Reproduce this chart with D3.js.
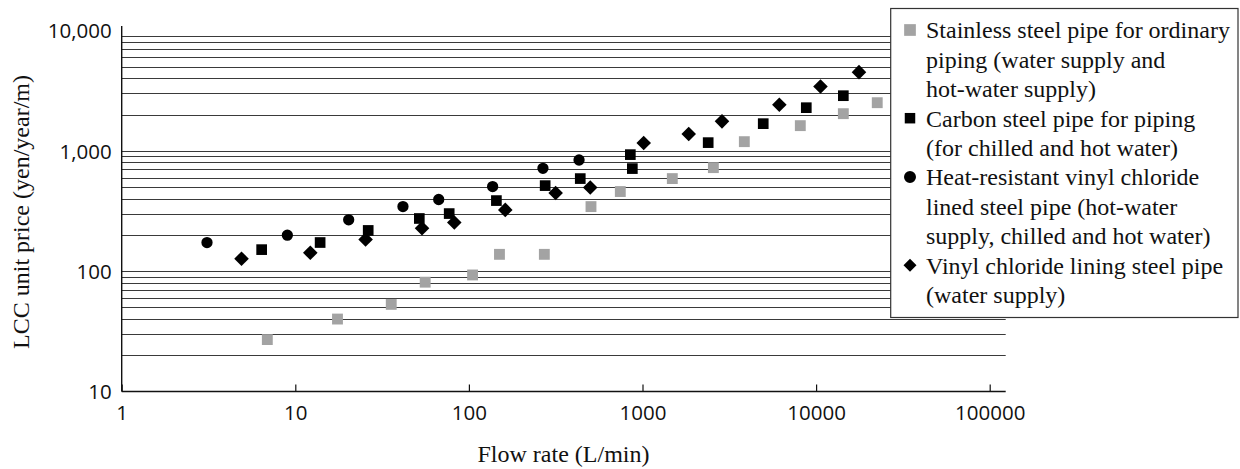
<!DOCTYPE html>
<html>
<head>
<meta charset="utf-8">
<script src="https://cdn.jsdelivr.net/npm/d3@7"></script>
<style>
  html, body { margin: 0; padding: 0; background: #fff; }
  svg { display: block; }
</style>
</head>
<body>
<svg id="chart" width="1240" height="469"></svg>
<script>
// ---------- data ----------
const stainlessFlow  = [6.9, 17.5, 35.7, 56, 105, 150, 272, 505, 745, 1485, 2560, 3860, 8110, 14350, 22500];
const stainlessPrice = [27, 40, 53, 81, 93, 138, 138, 344, 459, 588, 725, 1192, 1619, 2036, 2512];

const carbonFlow  = [6.4, 13.9, 26.3, 51.8, 77, 144, 275, 438, 851, 874, 2390, 4960, 8780, 14350];
const carbonPrice = [151, 173, 218, 274, 301, 386, 514, 588, 930, 712, 1170, 1682, 2283, 2872];

const heatFlow  = [3.1, 9.0, 20.3, 41.7, 67, 137, 267, 431];
const heatPrice = [173, 199, 267, 344, 394, 505, 716, 839];

const vinylFlow  = [4.9, 12.2, 25.4, 53.7, 82.4, 162, 316, 500, 1016, 1846, 2870, 6140, 10600, 17660];
const vinylPrice = [127, 142, 183, 227, 254, 323, 447, 495, 1160, 1378, 1758, 2417, 3429, 4508];

const xTickValues = [1, 10, 100, 1000, 10000, 100000];
const xTickLabels = ["1", "10", "100", "1000", "10000", "100000"];
const yTickValues = [10, 100, 1000, 10000];
const yTickLabels = ["10", "100", "1,000", "10,000"];
const yGridValues = [20, 30, 40, 50, 60, 70, 80, 90,
                     100, 200, 300, 400, 500, 600, 700, 800, 900,
                     1000, 2000, 3000, 4000, 5000, 6000, 7000, 8000, 9000];

const xTitle = "Flow rate (L/min)";
const yTitle = "LCC unit price (yen/year/m)";

const legendLines = [
  ["Stainless steel pipe for ordinary", "piping (water supply and", "hot-water supply)"],
  ["Carbon steel pipe for piping", "(for chilled and hot water)"],
  ["Heat-resistant vinyl chloride", "lined steel pipe (hot-water", "supply, chilled and hot water)"],
  ["Vinyl chloride lining steel pipe", "(water supply)"]
];

// ---------- layout ----------
const plotLeft = 121.7, plotRight = 1005.7, plotBottom = 391.5, axisTop = 26;
const svg = d3.select("#chart");

const x = d3.scaleLog().domain([1, 100000]).range([plotLeft, 989.7]);
const y = d3.scaleLog().domain([10, 10000]).range([plotBottom, 30.5]);

const series = [
  { flow: stainlessFlow, price: stainlessPrice, shape: "square", color: "#a3a3a3", size: 118, lsize: 137 },
  { flow: carbonFlow,    price: carbonPrice,    shape: "square", color: "#000",    size: 114, lsize: 110 },
  { flow: heatFlow,      price: heatPrice,      shape: "circle", color: "#000",    size: 100, lsize: 113 },
  { flow: vinylFlow,     price: vinylPrice,     shape: "diamond",color: "#000",    size: 106, lsize: 85 }
];

function symbolPath(shape, size) {
  if (shape === "circle") return d3.symbol(d3.symbolCircle, size)();
  return d3.symbol(d3.symbolSquare, size)();
}

// ---------- gridlines ----------
svg.append("g")
  .selectAll("line")
  .data(yGridValues)
  .join("line")
  .attr("x1", plotLeft).attr("x2", plotRight)
  .attr("y1", d => Math.round(y(d)) + 0.5).attr("y2", d => Math.round(y(d)) + 0.5)
  .attr("stroke", "#3a3a3a").attr("stroke-width", 1.2);

// ---------- axes ----------
const xAxis = d3.axisBottom(x).tickValues(xTickValues).tickSizeInner(-7).tickSizeOuter(0)
  .tickFormat((d, i) => xTickLabels[i]).tickPadding(14);
const gx = svg.append("g").attr("transform", `translate(0,${plotBottom})`).call(xAxis);
gx.select(".domain").remove();
gx.append("line").attr("x1", plotLeft).attr("x2", plotRight).attr("y1", 0).attr("y2", 0)
  .attr("stroke", "#111").attr("stroke-width", 1.4);
gx.selectAll(".tick line").attr("stroke", "#111").attr("stroke-width", 1.2);
gx.selectAll(".tick text")
  .attr("font-family", "'Open Sans', sans-serif").attr("font-size", 20.5).attr("fill", "#111")
  .attr("dy", "0.71em");

const yAxis = d3.axisLeft(y).tickValues(yTickValues).tickSize(0)
  .tickFormat((d, i) => yTickLabels[i]).tickPadding(10);
const gy = svg.append("g").attr("transform", `translate(${plotLeft},0)`).call(yAxis);
gy.select(".domain").remove();
gy.append("line").attr("x1", 0).attr("x2", 0).attr("y1", axisTop).attr("y2", plotBottom)
  .attr("stroke", "#111").attr("stroke-width", 1.4);
gy.selectAll(".tick text")
  .attr("font-family", "'Open Sans', sans-serif").attr("font-size", 20.5).attr("fill", "#111")
  .attr("dy", "0.36em");

// ---------- axis titles ----------
svg.append("text")
  .attr("x", 563.5).attr("y", 462)
  .attr("text-anchor", "middle")
  .attr("font-family", "'Liberation Serif', 'Times New Roman', serif").attr("font-size", 24)
  .attr("fill", "#111")
  .text(xTitle);

svg.append("text")
  .attr("transform", "translate(28.5,212) rotate(-90)")
  .attr("text-anchor", "middle")
  .attr("font-family", "'Liberation Serif', 'Times New Roman', serif").attr("font-size", 24)
  .attr("fill", "#111")
  .text(yTitle);

// ---------- points ----------
series.forEach(s => {
  svg.append("g")
    .selectAll("path")
    .data(s.flow.map((f, i) => [f, s.price[i]]))
    .join("path")
    .attr("d", symbolPath(s.shape, s.size))
    .attr("transform", d => `translate(${x(d[0])},${y(d[1])})` + (s.shape === "diamond" ? " rotate(45)" : ""))
    .attr("fill", s.color);
});

// ---------- legend ----------
const lg = svg.append("g");
lg.append("rect")
  .attr("x", 890.7).attr("y", 8.5).attr("width", 347.3).attr("height", 309)
  .attr("fill", "#fff").attr("stroke", "#333").attr("stroke-width", 1.2);

const lineH = 29.4;
let lineIdx = 0;
series.forEach((s, si) => {
  const base = 38.3 + lineIdx * lineH;
  lg.append("path")
    .attr("d", symbolPath(s.shape, s.lsize))
    .attr("transform", `translate(910,${base - 8.3})` + (s.shape === "diamond" ? " rotate(45)" : ""))
    .attr("fill", s.color);
  legendLines[si].forEach((t, k) => {
    lg.append("text")
      .attr("x", 926).attr("y", base + k * lineH)
      .attr("font-family", "'Liberation Serif', 'Times New Roman', serif").attr("font-size", 24)
      .attr("fill", "#111")
      .text(t);
  });
  lineIdx += legendLines[si].length;
});
</script>
</body>
</html>
